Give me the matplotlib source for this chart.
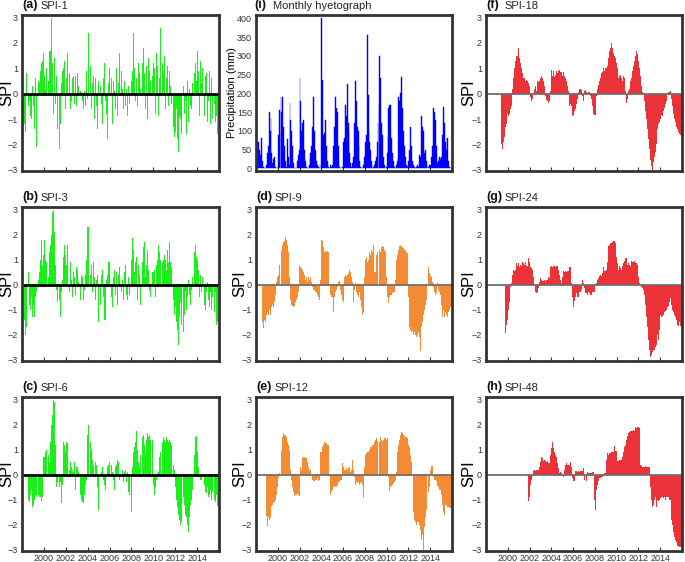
import numpy as np
import matplotlib
matplotlib.use("Agg")
import matplotlib.pyplot as plt

plt.rcParams['font.family'] = ['Liberation Sans', 'DejaVu Sans']

nan = float('nan')
start_year = 1998
year_ticks = [2000, 2002, 2004, 2006, 2008, 2010, 2012, 2014]

# monthly values, Jan 1998 - Dec 2015, one row per year
spi1 = [
    -1.4, -1.5, -1.2, -1.5, 0.8, 0.2, -0.7, -0.5, -0.3, -0.9, -1.0, 0.3,
    -0.5, -1.4, 0.6, -2.1, -0.6, -1.2, 0.5, 0.4, 0.9, 1.2, 1.3, 1.6,
    0.7, 0.2, 1.0, 0.8, -0.3, 0.5, 1.7, 1.7, 3.0, 1.2, -0.8, 1.4,
    -0.4, 0.7, -1.4, 0.3, -0.6, -2.2, -1.2, 0.4, 0.9, 1.0, 1.3, -0.6,
    0.6, 1.6, -1.1, 0.5, 0.8, -0.6, -0.3, 0.6, 0.7, -0.4, 0.7, -0.5,
    0.8, 0.3, -0.4, 0.7, 0.1, 0.05, -0.3, -0.6, 0.1, -0.5, 0.9, -0.2,
    2.4, -0.4, 0.9, 1.1, -0.6, 0.4, 0.7, -1.0, 0.6, -0.5, -1.4, 0.5,
    -0.9, -1.0, 0.3, -0.4, -1.2, 0.6, 1.2, -0.3, -0.8, -1.8, 0.4, 1.0,
    1.1, -0.4, 0.6, -1.2, 0.5, 0.1, -0.6, 1.0, -0.9, 0.4, 1.6, -0.3,
    -0.8, 0.9, 0.2, -0.6, 0.5, -0.5, 0.2, -0.9, 0.3, -0.4, 0.6, 0.4,
    0.5, 0.9, 2.4, 1.0, -0.3, 0.6, -0.5, 1.2, 0.8, 0.2, -0.4, 1.0,
    1.2, 1.8, 0.8, -0.6, 1.1, -1.0, 1.4, 0.9, 0.5, 1.1, -0.9, 0.7,
    1.2, 1.0, -0.8, 1.6, 1.1, -0.9, 0.6, 2.6, 1.0, -0.4, 1.2, 0.9,
    1.5, -0.6, 0.6, 1.1, -0.5, 0.9, 0.3, -0.4, 0.5, 0.2, -1.3, -1.7,
    -1.5, -0.6, -1.8, -2.3, -0.9, -1.0, -1.6, -0.5, -0.4, 0.3, -0.8, -0.3,
    -1.6, 0.5, -1.1, 0.2, -0.5, -0.6, 0.4, -1.3, 0.1, 0.8, 1.2, 0.5,
    1.7, 0.9, -0.9, 1.3, 0.4, 1.0, -0.6, 0.3, -0.9, 0.7, 0.8, -1.1,
    -0.3, 0.9, -1.2, 0.6, -1.0, -1.1, 1.0, -0.4, -1.1, -0.9, -1.6, -1.0,
]

spi3 = [
    nan, nan, -1.4, -2.0, -1.7, -1.3, -0.4, 0.5, -0.8, -1.0, -0.5, -1.3,
    -0.8, -1.3, -0.5, -0.3, -0.8, -1.8, 0.2, 0.5, 1.0, 1.8, 0.8, 1.2,
    1.8, 1.0, 0.9, 0.6, 0.8, 0.3, 1.3, 1.6, 2.0, 2.9, 3.0, 2.1,
    0.8, -0.2, -0.7, -0.5, 0.4, -0.6, -1.3, -0.3, 0.2, 1.1, 1.6, 1.2,
    0.8, 1.6, 1.2, 0.3, -0.3, 0.9, 0.2, -0.5, 0.5, 0.3, -0.4, 0.7,
    0.6, 0.1, -1.0, -0.8, -0.6, 0.4, 0.3, -0.6, -0.2, 0.4, 1.0, 2.3,
    2.3, 2.35, 1.0, 0.4, 0.8, -0.3, 0.9, 0.3, -0.6, 0.2, 0.4, -1.5,
    -1.2, 0.3, -0.8, 0.4, 0.6, -0.5, -1.4, -1.4, 0.2, 0.4, 0.9, 0.9,
    0.9, 0.3, -0.5, -0.9, 0.3, 0.6, -0.4, 0.5, -0.8, 0.4, 0.7, 0.2,
    0.7, -0.3, 0.2, -0.6, 0.5, 0.8, -0.4, -0.6, 0.3, -0.4, -1.3, -0.6,
    1.0, 1.85, 1.4, 0.5, 0.9, 1.1, -0.6, 0.8, 0.4, -0.8, 1.6, 1.7,
    0.9, 1.5, 1.7, 0.3, 0.8, 1.4, 0.6, -0.2, -0.5, 0.2, 0.4, 0.5,
    0.5, 0.6, -0.5, 0.8, 1.0, 1.6, 1.3, 1.0, 1.7, 0.3, 0.9, 1.0,
    1.2, 1.0, 0.6, 1.4, 0.9, 1.7, 0.9, 0.7, 0.4, 0.3, -0.6, -1.2,
    -0.9, -1.5, -1.8, -2.4, -1.3, -0.7, -1.6, -1.1, -0.5, -1.9, -1.2, -0.3,
    -1.0, -0.5, 0.2, -0.4, -0.8, -0.2, 0.3, -0.4, 0.9, 1.3, 1.6, 1.1,
    1.0, 0.6, -0.5, 0.4, -0.3, 0.3, -0.6, 0.8, -0.8, -1.0, -0.3, 0.1,
    -0.6, -0.9, -0.3, -1.0, -0.5, -0.8, -1.5, -1.1, -0.3, -1.6, -1.5, 0.1,
]

spi6 = [
    nan, nan, nan, nan, nan, -1.85, -1.4, -1.0, -1.1, -0.8, -0.6, -1.3,
    -1.2, -1.0, -0.8, -0.9, -0.9, -0.6, -0.8, -0.9, -0.9, -1.05, -0.9, 0.7,
    0.7, 0.9, 1.0, 0.8, 0.7, 0.8, 0.5, 1.3, 2.0, 2.4, 3.0, 2.9,
    1.2, -0.5, -0.3, -0.7, -0.75, -0.5, -0.3, -1.15, -0.4, 1.3, 1.2, 0.9,
    1.3, 1.25, 1.1, 0.6, 0.2, 0.5, 0.3, 0.2, 0.1, 0.5, -0.6, 0.3,
    0.3, 0.1, -0.2, -0.5, -0.8, -1.0, -1.1, -1.15, -0.8, -0.4, -0.2, 1.6,
    2.0, 2.25, 1.9, 1.3, 1.0, 0.6, 0.4, -0.1, 0.5, 0.4, -0.5, -1.4,
    -1.4, -0.3, -0.1, 0.1, 0.3, -0.2, -0.4, -0.6, -0.1, 0.3, 0.4, 0.5,
    0.6, 0.6, 0.4, 0.1, -0.2, -0.6, 0.3, 0.4, 0.6, 0.5, -0.2, -1.0,
    0.4, -0.1, 0.2, -0.3, 0.1, 0.2, -0.3, 0.1, -0.7, -0.8, -0.5, -0.8,
    -1.5, 0.3, 0.9, 1.1, 1.3, 1.75, 1.0, 0.5, 0.3, 0.8, 1.4, 1.65,
    1.5, 1.6, 1.2, 0.9, 1.4, 1.65, 1.5, 1.6, 1.4, 1.2, 0.9, 1.4,
    -0.4, -0.8, -0.5, -0.2, 0.05, 0.1, 0.7, 0.9, 1.1, 1.5, 1.3, 1.5,
    1.4, 1.3, 1.5, 1.4, 1.3, 1.4, 1.3, 1.2, 1.0, 0.9, 0.4, 0.2,
    -0.5, -1.0, -1.3, -1.6, -1.8, -2.0, -1.9, -2.25, -1.4, -0.9, -1.2, -1.6,
    -1.7, -2.0, -2.3, -1.7, -1.2, -1.0, -0.6, -0.3, 0.3, 0.8, 1.5, 1.55,
    0.9, 0.3, -0.1, -0.2, -0.2, -0.1, -0.3, -0.5, -0.4, -0.7, -0.75, -0.5,
    -0.9, -0.8, -0.6, -1.0, -0.7, -0.9, -1.2, -1.0, -1.1, -0.8, -1.25, -1.25,
]

spi9 = [
    nan, nan, nan, nan, nan, nan, nan, -1.5, -1.75, -1.4, -1.5, -1.2,
    -1.1, -1.2, -1.0, -1.2, -1.0, -0.9, -0.8, -0.9, -0.7, -0.4, 0.1, 0.3,
    0.4, 0.8, 1.0, 1.2, 1.4, 1.6, 1.7, 1.75, 1.9, 1.8, 1.6, 1.3,
    0.3, -0.4, -0.6, -0.8, -0.85, -0.9, -0.85, -0.7, -0.6, -0.5, -0.3, 0.75,
    0.8, 0.7, 0.65, 0.6, 0.5, 0.4, 0.2, 0.3, 0.1, 0.3, 0.2, 0.1,
    0.3, 0.1, -0.1, -0.2, -0.2, -0.3, -0.3, -0.4, -0.5, -0.6, -0.85, 0.2,
    1.8, 1.75, 1.5, 1.3, 1.35, 1.3, 1.35, 1.3, -0.2, -0.6, -0.4, -0.5,
    -0.5, -1.1, -0.5, -0.3, -0.2, -0.1, 0.1, -0.1, 0.15, -0.2, -0.4, -0.6,
    -0.7, 0.3, 0.4, 0.35, 0.4, 0.45, 0.4, 0.6, 0.5, 0.3, 0.1, -0.7,
    -0.2, 0.05, -0.3, -0.4, -0.5, 0.05, -0.3, -0.6, -0.9, -1.2, -1.1, 0.3,
    1.0, 1.1, 0.9, 1.0, 1.1, 1.3, 1.2, 1.4, 1.3, 1.6, 0.5, 0.5,
    1.2, 1.3, 1.45, 1.3, 1.4, 1.3, 1.5, 1.55, 1.5, 1.4, 1.3, 0.3,
    -0.5, -0.7, -0.75, -0.5, -0.4, -0.4, -0.35, -0.3, -0.3, 0.2, 1.0, 1.2,
    1.3, 1.4, 1.55, 1.6, 1.5, 1.5, 1.45, 1.4, 1.4, 1.3, 1.25, 1.2,
    -0.5, -1.7, -1.8, -1.9, -1.85, -2.0, -1.9, -2.0, -2.1, -2.0, -2.3, -1.9,
    -2.1, -2.65, -1.7, -1.5, -1.2, -1.0, -0.8, -0.6, -0.5, -0.3, 0.7, 0.45,
    0.35, 0.3, 0.1, -0.1, -0.3, -0.4, -0.35, -0.2, 0.05, -0.2, -0.3, -0.4,
    -0.8, -1.3, -1.0, -1.3, -1.1, -1.2, -1.0, -1.3, -1.1, -1.0, -0.9, -0.9,
]

spi12 = [
    nan, nan, nan, nan, nan, nan, nan, nan, nan, nan, nan, -1.65,
    -2.05, -1.7, -1.8, -1.75, -1.3, -1.25, -1.2, -1.15, -1.1, -1.0, -0.8, -0.5,
    -0.15, 0.05, 0.45, 0.8, 1.0, 1.5, 1.65, 1.6, 1.6, 1.5, 1.3, 1.2,
    1.0, 0.6, 0.2, -0.2, -0.5, -0.7, -0.85, -0.8, -0.8, -0.75, -0.8, -0.85,
    0.25, 0.3, 0.2, 0.65, 0.7, 0.7, 0.65, 0.65, 0.5, 0.3, 0.2, 0.35,
    0.2, 0.0, -0.2, -0.25, -0.25, -0.2, -0.2, -0.15, -0.25, -0.2, -0.2, 0.9,
    0.9, 1.1, 1.2, 1.3, 1.25, 1.25, 1.2, 1.2, 1.2, 1.2, -0.8, -0.7,
    -0.6, -0.5, -0.45, -0.5, -0.5, -0.4, -0.3, -0.15, -0.3, -0.2, -0.2, 0.45,
    0.3, 0.2, 0.2, 0.25, 0.2, 0.25, 0.2, 0.3, 0.1, 0.2, 0.6, 0.2,
    -0.1, -0.4, -0.3, -0.35, -0.3, -0.3, -0.4, -0.35, -0.3, -0.4, -0.95, 0.3,
    0.8, 0.85, 0.9, 0.9, 1.0, 1.0, 1.1, 1.1, 1.2, 1.2, 1.3, 1.4,
    1.45, 1.35, 1.3, 1.35, 1.3, 1.5, 1.4, 1.35, 1.4, 1.45, 1.45, 1.4,
    1.45, 1.4, -0.1, -0.65, -0.5, -0.45, -0.4, -0.35, -0.3, -0.2, 0.1, 0.9,
    1.1, 1.2, 1.4, 1.6, 1.7, 1.65, 1.6, 1.55, 1.5, 1.5, 1.45, 1.5,
    1.2, 1.1, 0.8, 0.5, 0.0, -1.5, -1.8, -1.9, -2.0, -1.9, -2.0, -1.9,
    -2.0, -2.2, -2.6, -2.4, -3.0, -2.1, -1.7, -1.4, -1.1, -0.9, -0.7, -0.5,
    0.2, 0.35, 0.35, -0.1, -0.2, -0.2, -0.25, -0.35, -0.45, -0.5, -0.6, -0.6,
    -0.8, -1.2, -1.5, -1.6, -1.2, -1.2, -1.25, -1.3, -1.3, -1.35, -1.35, -1.3,
]

spi18 = [
    nan, nan, nan, nan, nan, nan, nan, nan, nan, nan, nan, nan,
    nan, nan, nan, nan, nan, -2.0, -2.2, -1.9, -1.7, -1.3, -1.2, -0.8,
    -0.9, -0.8, -0.7, -0.6, -0.5, 0.2, 0.6, 1.0, 1.3, 1.5, 1.5, 1.8,
    1.4, 1.3, 1.2, 1.0, 0.8, 0.6, 0.6, 0.5, 0.55, 0.5, 0.4, 0.3,
    0.05, -0.15, -0.3, -0.2, -0.05, 0.2, 0.3, 0.1, 0.5, 0.45, 0.5, 0.55,
    0.6, 0.7, 0.6, 0.5, 0.3, -0.1, -0.25, -0.3, -0.35, -0.3, -0.5, 0.1,
    0.95, 0.7, 0.9, 0.65, 0.75, 0.9, 0.8, 0.9, 0.7, 0.95, 0.85, 0.85,
    0.7, 0.85, 0.7, 0.6, 0.5, 0.3, 0.1, -0.55, -0.5, -0.4, -0.5, -0.9,
    -0.85, -0.7, -0.6, -0.4, -0.2, 0.05, 0.15, 0.2, 0.2, 0.15, -0.1, -0.3,
    0.1, 0.15, 0.05, -0.05, 0.05, 0.1, 0.05, -0.1, -0.2, -0.5, -0.8, -0.85,
    -0.85, -0.1, 0.2, 0.35, 0.4, 0.5, 0.6, 0.8, 0.85, 1.0, 0.9, 1.0,
    1.0, 1.1, 1.2, 1.4, 1.7, 1.8, 2.0, 1.8, 1.6, 1.5, 1.4, 1.2,
    1.0, 0.8, 0.6, 0.7, 0.75, 0.6, 0.5, 0.7, 0.6, 0.1, -0.35, -0.2,
    -0.1, 0.1, 0.2, 0.5, 0.6, 0.9, 1.1, 1.3, 1.5, 1.7, 1.55, 1.45,
    1.3, 1.0, 0.7, 0.3, 0.05, -0.05, -0.3, -0.7, -1.0, -1.4, -1.6, -1.8,
    -2.2, -2.6, -2.85, -3.0, -2.7, -2.5, -2.3, -2.0, -1.6, -1.4, -1.2, -1.1,
    -1.0, -0.85, -0.9, -0.7, -0.55, -0.4, -0.3, -0.15, -0.05, 0.05, 0.08, 0.1,
    -0.2, -0.5, -0.8, -1.0, -1.1, -1.3, -1.25, -1.4, -1.5, -1.6, -1.65, -1.7,
]

spi24 = [
    nan, nan, nan, nan, nan, nan, nan, nan, nan, nan, nan, nan,
    nan, nan, nan, nan, nan, nan, nan, nan, nan, -1.95, -1.6, -1.4,
    -1.0, -0.7, -0.5, -0.1, 0.05, 0.4, 0.6, 0.55, 0.6, 0.85, 0.75, 0.85,
    0.7, 1.05, 0.8, 0.75, 0.9, 0.85, 0.8, 0.9, 0.75, 0.75, 1.05, 0.9,
    0.8, 0.7, 0.65, 0.6, 0.3, -0.05, -0.3, -0.35, -0.3, -0.15, 0.1, 0.2,
    0.25, 0.2, 0.15, 0.15, 0.2, 0.15, 0.2, 0.2, 0.3, 0.25, 0.55, 0.7,
    0.75, 0.7, 0.75, 0.75, 0.7, 0.75, 0.75, 0.6, 0.55, 0.4, 0.2, 0.05,
    0.3, 0.55, 0.5, 0.55, 0.5, 0.55, 0.55, 0.55, 0.7, 0.7, 0.05, -0.5,
    -0.9, -0.65, -0.5, -0.35, -0.5, -0.5, -0.45, -0.3, -0.3, -0.2, 0.2, 0.05,
    -0.15, -0.35, -0.35, -0.4, -0.3, -0.4, -0.35, -0.4, -0.4, -0.3, -0.3, -0.3,
    -0.05, 0.05, 0.2, 0.25, 0.4, 0.35, 0.4, 0.35, 0.45, 0.7, 0.55, 0.55,
    0.6, 0.9, 1.3, 1.55, 1.6, 1.65, 1.65, 1.7, 1.75, 1.75, 1.65, 1.1,
    0.85, 0.7, 0.6, 0.75, 0.65, 0.6, 0.75, 0.85, 0.95, 1.05, 1.05, 0.8,
    0.9, 0.85, 0.8, 0.75, 0.95, 0.9, 0.9, 0.95, 0.85, 0.85, 0.8, 0.55,
    0.3, 0.05, -0.05, -0.1, -0.15, -0.2, -0.4, -0.8, -1.3, -1.7, -2.0, -2.2,
    -2.6, -2.9, -2.8, -2.7, -2.6, -2.6, -2.5, -2.4, -2.3, -2.0, -2.2, -1.8,
    -1.2, -1.3, -1.25, -1.2, -1.1, -1.05, -1.0, -0.9, -0.9, -0.85, -0.7, -0.55,
    -0.8, -1.0, -1.1, -1.2, -1.3, -1.4, -1.5, -1.6, -1.65, -1.5, -1.65, -1.65,
]

spi48 = [
    nan, nan, nan, nan, nan, nan, nan, nan, nan, nan, nan, nan,
    nan, nan, nan, nan, nan, nan, nan, nan, nan, nan, nan, nan,
    nan, nan, nan, nan, nan, nan, nan, nan, nan, nan, nan, nan,
    nan, nan, nan, nan, nan, nan, nan, nan, nan, nan, -1.05, -0.9,
    -0.6, -0.4, -0.2, -0.05, 0.15, 0.2, 0.15, 0.2, 0.2, 0.2, 0.3, 0.3,
    0.5, 0.7, 0.65, 0.55, 0.6, 0.55, 0.5, 0.55, 0.45, 0.45, 0.6, 0.8,
    1.05, 1.3, 1.05, 0.9, 0.8, 0.7, 0.45, 0.25, 0.15, 0.05, 0.1, 0.05,
    -0.05, -0.1, 0.2, 0.4, 0.45, 0.4, 0.4, 0.4, 0.4, 0.5, 0.3, -0.15,
    -0.25, -0.25, 0.15, 0.15, 0.1, 0.15, 0.1, 0.1, 0.15, 0.15, 0.15, 0.25,
    -0.2, -0.05, -0.25, 0.1, 0.05, 0.05, 0.05, 0.05, 0.05, 0.1, 0.1, -1.0,
    -1.4, -0.6, -0.4, -0.25, -0.2, -0.15, -0.15, -0.1, -0.1, -0.05, 0.05, 0.05,
    0.6, 0.85, 0.9, 0.8, 0.85, 0.85, 0.9, 0.9, 0.9, 1.15, 0.95, 0.95,
    0.55, 0.6, 0.55, 0.6, 0.6, 0.6, 0.7, 0.9, 1.1, 1.2, 1.4, 1.55,
    1.6, 1.65, 1.7, 1.75, 1.75, 1.75, 1.8, 1.75, 1.9, 1.85, 1.9, 1.85,
    1.9, 1.85, 0.4, 0.35, 0.3, 0.3, 0.3, 0.35, 0.3, 0.3, 0.25, 0.3,
    0.3, -0.5, -1.0, -1.3, -1.2, -1.0, -0.9, -1.3, -1.1, -1.0, -1.05, -1.0,
    -0.95, -0.9, -0.9, -0.95, -0.9, -1.0, -0.9, -0.95, -0.9, -0.9, -1.0, -1.0,
    -1.8, -2.0, -2.3, -2.5, -2.6, -2.7, -2.8, -2.85, -2.85, -2.9, -2.9, -2.9,
]

# monthly precipitation (mm)
rain = [
    35, 70, 70, 50, 35, 20, 80, 20, 5, 0, 0, 10,
    40, 60, 150, 100, 135, 40, 15, 25, 30, 5, 0, 0,
    90, 155, 100, 190, 150, 190, 110, 60, 20, 5, 78, 30,
    10, 175, 130, 100, 60, 15, 0, 0, 0, 20, 35, 50,
    240, 180, 100, 120, 130, 50, 20, 5, 0, 0, 10, 25,
    40, 60, 110, 190, 100, 50, 20, 10, 5, 0, 10, 0,
    400, 235, 90, 95, 130, 60, 20, 5, 0, 0, 10, 5,
    10, 60, 110, 190, 160, 150, 60, 20, 5, 0, 0, 5,
    70, 80, 170, 140, 225, 120, 100, 40, 15, 5, 15, 30,
    120, 232, 180, 110, 100, 60, 20, 5, 0, 0, 10, 30,
    70, 90, 355, 195, 100, 70, 50, 20, 0, 5, 10, 20,
    30, 70, 120, 170, 300, 240, 120, 90, 30, 10, 0, 5,
    40, 90, 160, 170, 170, 80, 40, 20, 5, 0, 10, 20,
    30, 190, 180, 200, 245, 160, 100, 60, 30, 10, 5, 10,
    20, 50, 110, 60, 20, 10, 5, 0, 5, 10, 0, 5,
    35, 30, 140, 110, 100, 40, 50, 20, 10, 0, 5, 10,
    10, 30, 60, 160, 150, 130, 60, 20, 15, 20, 30, 25,
    30, 90, 165, 120, 70, 50, 80, 80, 20, 5, 0, 0,
]

green = '#19f019'
orange = '#f48b35'
red = '#ea3238'
blue = '#0000ff'
frame = '#333333'

W, H = 685, 562
fig = plt.figure(figsize=(W / 100, H / 100), dpi=100)

col_left = [22, 256, 486]
col_width = [197, 196, 196]
row_top = [15, 207, 397]
row_height = [156, 154, 154]
# y-label baseline position (axes fraction) per column
label_x = [-0.041, -0.046, -0.051]

months = start_year + (np.arange(len(spi1)) + 0.5) / 12


def make_axes(r, c):
    l = col_left[c] / W
    b = 1 - (row_top[r] + row_height[r]) / H
    ax = fig.add_axes([l, b, col_width[c] / W, row_height[r] / H])
    for s in ax.spines.values():
        s.set_color(frame)
        s.set_linewidth(2)
    ax.set_xlim(1998, 2016)
    ax.set_xticks(year_ticks)
    if r == 2:
        ax.set_xticklabels([str(y) for y in year_ticks])
    else:
        ax.set_xticklabels([])
    ax.tick_params(direction='in', length=3, width=0.8, colors=frame,
                   labelsize=6.5, pad=2)
    ax.tick_params(axis='y', length=0, pad=3)
    return ax


def title(ax, letter, name, dx=0):
    ax.annotate(letter, xy=(0, 1), xycoords='axes fraction',
                xytext=(dx, 3), textcoords='offset points',
                fontsize=9, fontweight='bold', color='#111111', va='bottom')
    ax.annotate(name, xy=(0, 1), xycoords='axes fraction',
                xytext=(dx + 13, 3), textcoords='offset points',
                fontsize=8, color='#222222', va='bottom')


def spi_panel(r, c, vals, color, letter, name, thick_zero):
    ax = make_axes(r, c)
    v = np.array(vals, dtype=float)
    w = 0.9 / 12 if thick_zero else 1.0 / 12
    ax.bar(months, v, width=w, color=color, linewidth=0)
    if thick_zero:
        ax.axhline(0, color='black', lw=2)
    else:
        ax.axhline(0, color='#707070', lw=1.3)
    ax.set_ylim(-3.05, 3.1)
    ax.set_yticks([-3, -2, -1, 0, 1, 2, 3])
    ax.set_ylabel('SPI', fontsize=12)
    ax.yaxis.set_label_coords(label_x[c], 0.5)
    title(ax, letter, name)
    return ax


spi_panel(0, 0, spi1, green, '(a)', 'SPI-1', True)
spi_panel(1, 0, spi3, green, '(b)', 'SPI-3', True)
spi_panel(2, 0, spi6, green, '(c)', 'SPI-6', True)
spi_panel(1, 1, spi9, orange, '(d)', 'SPI-9', False)
spi_panel(2, 1, spi12, orange, '(e)', 'SPI-12', False)
spi_panel(0, 2, spi18, red, '(f)', 'SPI-18', False)
spi_panel(1, 2, spi24, red, '(g)', 'SPI-24', False)
spi_panel(2, 2, spi48, red, '(h)', 'SPI-48', False)

# monthly hyetograph
ax = make_axes(0, 1)
ax.bar(months, rain, width=1.0 / 12, color=blue, edgecolor=blue, linewidth=0.3)
ax.set_ylim(-7, 409)
ax.set_yticks(range(0, 401, 50))
ax.set_ylabel('Precipitation (mm)', fontsize=8)
ax.yaxis.set_label_coords(-0.095, 0.5)
title(ax, '(i)', 'Monthly hyetograph', dx=-1)

fig.savefig('out.png', dpi=100)
